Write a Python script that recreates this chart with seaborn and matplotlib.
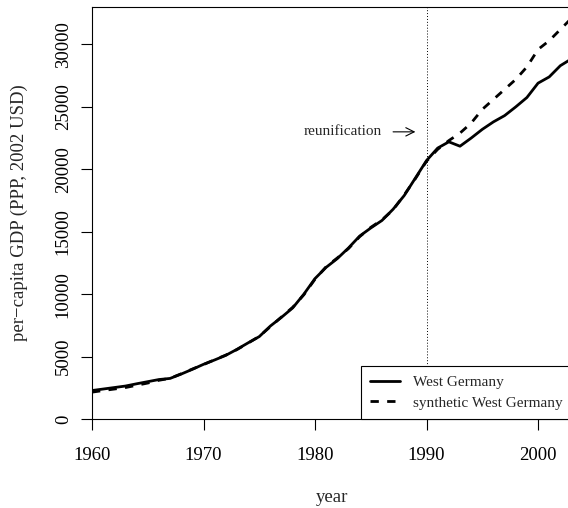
import numpy as np
import pandas as pd
import matplotlib
matplotlib.use("Agg")
import matplotlib.pyplot as plt
import seaborn as sns

years = list(range(1960, 2004))

west_germany = [
    2280, 2400, 2520, 2640, 2820, 2990, 3160, 3250, 3600, 3980,
    4380, 4730, 5100, 5580, 6100, 6600, 7450, 8150, 8900, 10000,
    11250, 12150, 12850, 13700, 14650, 15300, 15900, 16800, 17900, 19300,
    20700, 21700, 22200, 21850, 22500, 23200, 23800, 24300, 25000, 25750,
    26900, 27400, 28300, 28850,
]

synthetic_west_germany = [
    2150, 2280, 2400, 2520, 2700, 2880, 3100, 3260, 3620, 4000,
    4360, 4750, 5120, 5560, 6080, 6620, 7400, 8180, 8950, 9950,
    11200, 12200, 12900, 13650, 14600, 15350, 15950, 16750, 17950, 19250,
    20650, 21600, 22300, 22900, 23700, 24800, 25600, 26400, 27200, 28200,
    29600, 30300, 31200, 32100,
]

series_names = ["West Germany", "synthetic West Germany"]

df = pd.DataFrame({
    "year": years * 2,
    "gdp": west_germany + synthetic_west_germany,
    "series": [series_names[0]] * len(years) + [series_names[1]] * len(years),
})

sns.set_theme(style="ticks")
plt.rcParams["font.family"] = ["Liberation Serif", "DejaVu Serif"]

BIG = 13.5
SMALL = 11

fig = plt.figure(figsize=(5.68, 5.08), dpi=100)
ax = fig.add_axes([92 / 568, (508 - 419) / 508, (571.5 - 92) / 568, (419 - 7) / 508])

sns.lineplot(
    data=df, x="year", y="gdp", style="series", color="black",
    dashes={series_names[0]: "", series_names[1]: (3, 3)},
    linewidth=2, ax=ax, legend=True,
)

ax.set_xlim(1960, 2003)
ax.set_ylim(0, 33000)
ax.set_xticks([1960, 1970, 1980, 1990, 2000])
ax.set_yticks([0, 5000, 10000, 15000, 20000, 25000, 30000])
ax.tick_params(axis="both", direction="out", length=8, width=0.8, colors="black",
               labelsize=BIG)
ax.tick_params(axis="x", pad=12)
ax.tick_params(axis="y", pad=6.5)
for t in ax.get_yticklabels():
    t.set_rotation(90)
    t.set_va("center")

for sp in ax.spines.values():
    sp.set_visible(True)
    sp.set_color("black")
    sp.set_linewidth(0.8)

ax.set_xlabel("year", fontsize=BIG)
ax.xaxis.set_label_coords(0.5, (419 - 502) / 412)
ax.xaxis.label.set_va("baseline")
ax.set_ylabel("per\u2212capita GDP (PPP, 2002 USD)", fontsize=BIG)
ax.yaxis.set_label_coords((19 - 92) / 479.5, 0.5)
ax.yaxis.label.set_va("center")

# reunification marker
ax.axvline(1990, color="black", linestyle=(0, (1, 2)), linewidth=0.7)
ax.text(1982.5, 23000, "reunification", ha="center", va="center", fontsize=SMALL)
ax.annotate("", xy=(1989, 23000), xytext=(1987, 23000),
            arrowprops=dict(arrowstyle="->,head_length=0.5,head_width=0.25",
                            lw=0.8, color="black", shrinkA=0, shrinkB=0))

leg = ax.legend(loc="lower right", bbox_to_anchor=(1, 0), borderaxespad=0,
                frameon=True, fancybox=False, edgecolor="black", fontsize=SMALL,
                handlelength=1.95, handletextpad=0.85, borderpad=0.6,
                labelspacing=0.45, title=None)
leg.get_frame().set_linewidth(0.8)
leg.get_frame().set_alpha(1)

fig.savefig("out.png", dpi=100)
